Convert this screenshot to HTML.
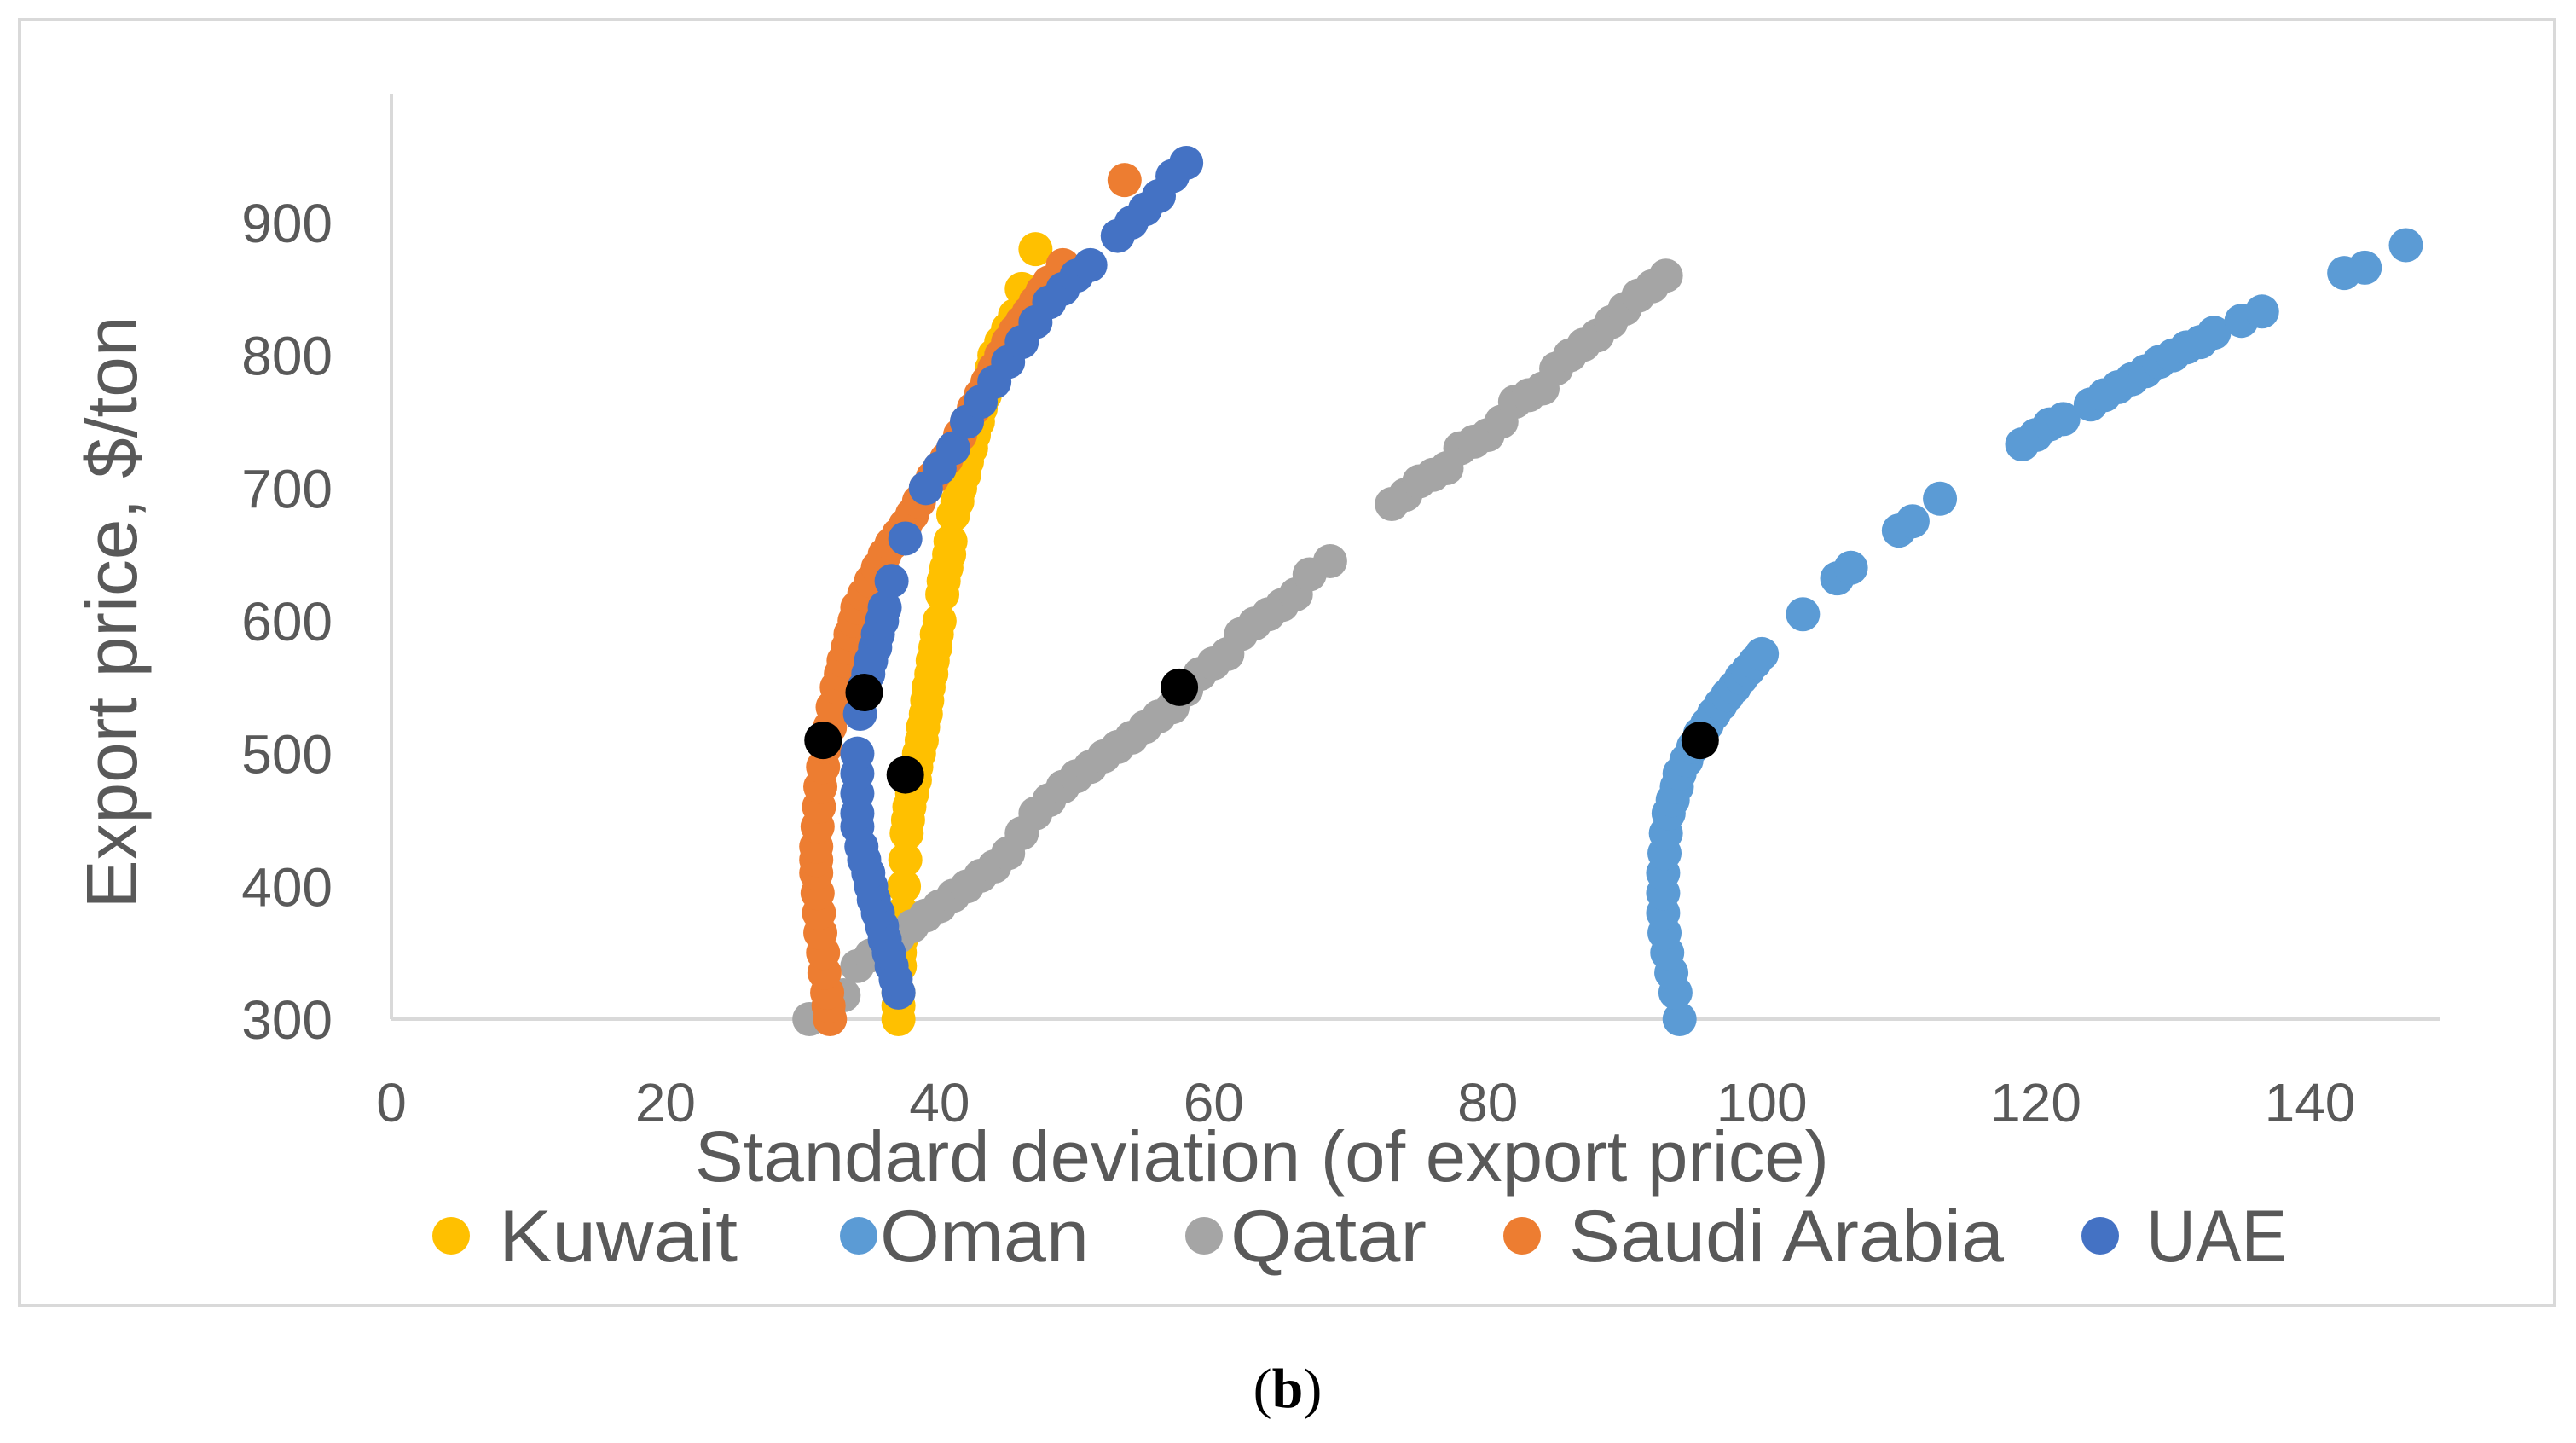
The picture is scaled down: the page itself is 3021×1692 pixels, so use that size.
<!DOCTYPE html>
<html><head><meta charset="utf-8"><style>
html,body{margin:0;padding:0;background:#fff;}
svg{display:block;font-family:"Liberation Sans",sans-serif;}
</style></head><body>
<svg id="chart" width="3021" height="1692" viewBox="0 0 3021 1692" xmlns="http://www.w3.org/2000/svg">
<rect x="23" y="23" width="2973" height="1508" fill="#fff" stroke="#d9d9d9" stroke-width="4"/>
<g id="axes"></g>
<g id="marks"></g>
<text x="1480" y="1385" font-size="84" fill="#595959" text-anchor="middle" textLength="1330" lengthAdjust="spacingAndGlyphs">Standard deviation (of export price)</text>
<text transform="translate(160,718) rotate(-90)" font-size="84" fill="#595959" text-anchor="middle" textLength="695" lengthAdjust="spacingAndGlyphs">Export price, $/ton</text>
<g id="legend"></g>
<text x="1510" y="1650" font-size="66" font-family="Liberation Serif, serif" text-anchor="middle" fill="#000">(<tspan font-weight="bold">b</tspan>)</text>
</svg>
<script>
const seriesNames = ["Kuwait","Oman","Qatar","Saudi Arabia","UAE"];
const seriesColors = ["#FFC000","#5B9BD5","#A5A5A5","#ED7D31","#4472C4"];
const xTicks = [0,20,40,60,80,100,120,140];
const yTicks = [300,400,500,600,700,800,900];
const kuwaitX = [37,37,37,37.1,37.1,37.2,37.3,37.4,37.5,37.6,37.7,37.8,38,38.2,38.3,38.5,38.7,38.8,39,39.1,39.2,39.4,39.5,39.7,39.8,40,40.2,40.3,40.5,40.7,40.8,41,41.3,41.5,41.8,42,42.3,42.5,42.8,43,43.3,43.5,43.8,44,44.5,45,45.5,46,47];
const kuwaitY = [300,310,320,340,350,360,380,400,420,440,450,460,470,480,490,500,510,520,530,540,550,560,570,580,590,600,620,630,640,650,660,680,690,700,710,720,730,740,750,760,770,780,790,800,810,820,830,850,880];
const omanX = [94,93.7,93.4,93.1,92.9,92.8,92.8,92.8,92.9,93,93.2,93.5,93.8,94,94.5,95,95.5,96,96.5,97,97.5,98,98.5,99,99.5,100,103,105.5,106.5,110,111,113,119,120,121,122,124,125,126,127,128,129,130,131,132,133,135,136.5,142.5,144,147];
const omanY = [300,320,335,350,365,380,395,410,425,440,455,465,475,485,495,505,515,522,530,537,544,550,557,563,569,575,605,632,640,668,675,692,733,740,748,752,763,770,776,782,788,795,800,806,810,817,826,833,862,866,883];
const qatarX = [30.5,33,34,35,36,37,38,39,40,41,42,43,44,45,46,47,48,49,50,51,52,53,54,55,56,57,58,59,60,61,62,63,64,65,66,67,68.5,73,74,75,76,77,78,79,80,81,82,83,84,85,86,87,88,89,90,91,92,93];
const qatarY = [300,318,340,348,355,362,370,378,385,393,400,408,415,425,440,455,465,475,483,490,498,505,512,520,528,535,548,560,568,575,590,598,605,612,620,635,645,688,695,705,710,715,730,735,740,750,765,770,775,790,800,808,815,825,835,845,852,860];
const saudiX = [32,31.9,31.8,31.6,31.5,31.3,31.2,31.1,31,31,31,31.1,31.2,31.3,31.5,31.7,32,32.2,32.5,32.8,33,33.3,33.5,33.8,34,34.5,35,35.5,36,36.5,37,37.5,38,38.5,39,39.5,40,40.5,41,41.5,42,42.5,43,43.5,44,44.5,45,45.5,46,46.5,47,47.5,48,49,53.5];
const saudiY = [300,310,320,335,350,365,380,395,410,420,430,445,460,475,490,505,520,535,550,560,570,580,590,600,610,620,630,640,650,658,665,672,680,690,700,708,715,722,730,740,750,760,770,780,790,800,810,818,825,832,840,848,855,868,932];
const uaeX = [37,36.8,36.5,36.3,36,35.8,35.5,35.2,35,34.8,34.5,34.3,34,34,34,34,34,34.2,34.5,34.8,35,35.3,35.5,35.8,36,36.5,37.5,39,40,41,42,43,44,45,46,47,48,49,50,51,53,54,55,56,57,58];
const uaeY = [320,330,340,350,360,370,380,390,400,410,420,430,445,455,470,485,500,530,550,560,570,580,590,600,610,630,662,700,715,730,750,765,780,795,810,825,840,850,860,868,890,900,910,920,935,945];
const optimalX = [31.5,34.5,37.5,57.5,95.5];
const optimalY = [510,546,484,550,510];

const NS="http://www.w3.org/2000/svg";
const X0=459,X1=2709,XMIN=0,XMAX=140;
const Y0=1195,Y1=261,YMIN=300,YMAX=900;
const sx=v=>X0+(v-XMIN)/(XMAX-XMIN)*(X1-X0);
const sy=v=>Y0-(v-YMIN)/(YMAX-YMIN)*(Y0-Y1);
function mk(tag,attrs,parent){const e=document.createElementNS(NS,tag);for(const k in attrs)e.setAttribute(k,attrs[k]);parent.appendChild(e);return e;}
const axes=document.getElementById('axes');
const xl=mk('line',{x1:X0,y1:Y0,x2:2862,y2:Y0,stroke:'#d9d9d9','stroke-width':4},axes);


const yl=mk('line',{x1:X0,y1:110,x2:X0,y2:Y0,stroke:'#d9d9d9','stroke-width':4},axes);


xTicks.forEach(t=>{const e=mk('text',{x:sx(t),y:1315,'font-size':64,fill:'#595959','text-anchor':'middle'},axes);e.textContent=t;

});
yTicks.forEach(t=>{const e=mk('text',{x:390,y:sy(t)+23,'font-size':64,fill:'#595959','text-anchor':'end'},axes);e.textContent=t;

});
const marks=document.getElementById('marks');
const allX=[kuwaitX,omanX,qatarX,saudiX,uaeX],allY=[kuwaitY,omanY,qatarY,saudiY,uaeY];
allX.forEach((xs,i)=>{const g=mk('g',{},marks);


xs.forEach((x,j)=>{const c=mk('circle',{cx:sx(x),cy:sy(allY[i][j]),r:20,fill:seriesColors[i]},g);

});});
optimalX.forEach((x,j)=>{const c=mk('circle',{cx:sx(x),cy:sy(optimalY[j]),r:22,fill:'#000'},marks);

});
const legend=document.getElementById('legend');
const lm=[529,1007,1412,1785,2463],lt=[585,1032,1443,1840,2517];
const lw=[280,245,230,510,165];
seriesNames.forEach((n,i)=>{const c=mk('circle',{cx:lm[i],cy:1449,r:22,fill:seriesColors[i]},legend);


const t=mk('text',{x:lt[i],y:1479,'font-size':86,fill:'#595959',textLength:lw[i],lengthAdjust:'spacingAndGlyphs'},legend);t.textContent=n;

});
</script>
</body></html>
